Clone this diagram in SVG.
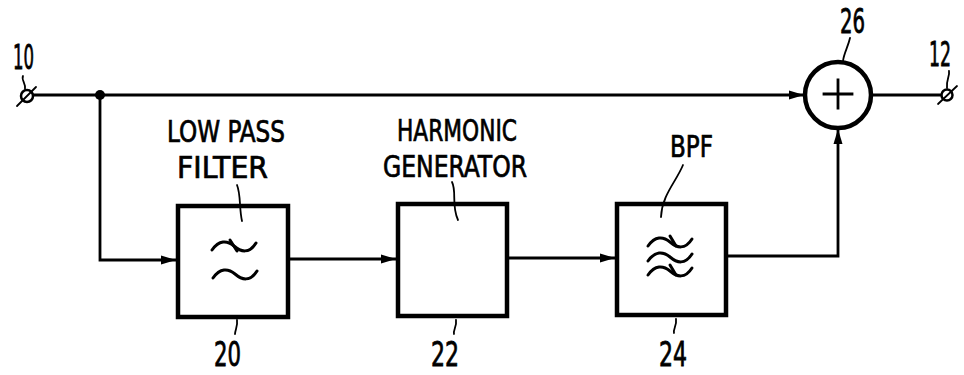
<svg xmlns="http://www.w3.org/2000/svg" width="964" height="375" viewBox="0 0 964 375">
<defs>
<style>
.ln{fill:none;stroke:#000;stroke-width:2.8;stroke-linecap:square}
.box{fill:#fff;stroke:#000;stroke-width:4.5}
.ld{fill:none;stroke:#000;stroke-width:1.8;stroke-linecap:round}
.tl{fill:none;stroke:#000;stroke-width:3;stroke-linecap:round}
.t{font-family:"Liberation Sans Narrow","DejaVu Sans Condensed","Liberation Sans",sans-serif;font-size:30px;fill:#000;stroke:#000;stroke-width:0.7}
.n{font-family:"Liberation Sans Narrow","DejaVu Sans Condensed","Liberation Sans",sans-serif;font-size:34px;fill:#000;stroke:#000;stroke-width:0.8}
</style>
<marker id="ah" markerWidth="15" markerHeight="10" refX="14" refY="5" orient="auto" markerUnits="userSpaceOnUse">
<path d="M0,0.5 L15,5 L0,9.5 Z" fill="#000"/>
</marker>
<path id="tilde" d="M0 5 C 7 -5, 15 -5, 22 1 S 37 9, 44 -2"/>
</defs>

<g id="connectors">
<path class="ln" d="M33 95 H803" marker-end="url(#ah)"/>
<path class="ln" d="M100 95 V260 H175" marker-end="url(#ah)"/>
<path class="ln" d="M290 259 H395" marker-end="url(#ah)"/>
<path class="ln" d="M509 258 H614" marker-end="url(#ah)"/>
<path class="ln" d="M729 256 H838 V130" marker-end="url(#ah)"/>
<path class="ln" d="M873 95 H942"/>
<circle cx="100" cy="95" r="5" fill="#000"/>
</g>

<g id="terminal10">
<circle cx="27" cy="96" r="6" fill="#fff" stroke="#000" stroke-width="2.5"/>
<path class="ld" d="M17 106 L36 87" stroke-width="2.5"/>
<path class="ld" d="M23 76 C 21 80, 26 83, 25 89"/>
<text class="n" x="13" y="69" textLength="21" lengthAdjust="spacingAndGlyphs">10</text>
</g>

<g id="terminal12">
<circle cx="947" cy="95" r="5.5" fill="#fff" stroke="#000" stroke-width="2.5"/>
<path class="ld" d="M938 104 L957 86" stroke-width="2.5"/>
<path class="ld" d="M949 71 C 950 76, 946 80, 947 88"/>
<text class="n" x="929" y="66" textLength="22" lengthAdjust="spacingAndGlyphs">12</text>
</g>

<g id="lpf">
<rect class="box" x="178" y="206" width="110" height="111"/>
<text class="t" x="167" y="142" textLength="118" lengthAdjust="spacingAndGlyphs">LOW PASS</text>
<text class="t" x="177" y="178" textLength="91" lengthAdjust="spacingAndGlyphs">FILTER</text>
<path class="ld" d="M237 185 C 241 195, 239 208, 242 221"/>
<use href="#tilde" class="tl" x="212" y="245"/>
<path class="tl" d="M230 240 L237 251" stroke-width="2.5"/>
<use href="#tilde" class="tl" x="213" y="273"/>
<path class="ld" d="M237 320 C 238 326, 235 330, 235 334"/>
<text class="n" x="214" y="366" textLength="27" lengthAdjust="spacingAndGlyphs">20</text>
</g>

<g id="harmonic">
<rect class="box" x="398" y="204" width="109" height="112"/>
<text class="t" x="397" y="141" textLength="120" lengthAdjust="spacingAndGlyphs">HARMONIC</text>
<text class="t" x="383" y="177" textLength="144" lengthAdjust="spacingAndGlyphs">GENERATOR</text>
<path class="ld" d="M452 182 C 457 192, 451 205, 458 220"/>
<path class="ld" d="M456 320 C 457 326, 453 330, 454 334"/>
<text class="n" x="431" y="366" textLength="28" lengthAdjust="spacingAndGlyphs">22</text>
</g>

<g id="bpf">
<rect class="box" x="617" y="204" width="109" height="111"/>
<text class="t" x="670" y="157" textLength="43" lengthAdjust="spacingAndGlyphs">BPF</text>
<path class="ld" d="M683 165 C 676 182, 662 195, 661 217"/>
<use href="#tilde" class="tl" x="648" y="241"/>
<use href="#tilde" class="tl" x="648" y="256"/>
<use href="#tilde" class="tl" x="648" y="270"/>
<path class="tl" d="M670 236 L676 246" stroke-width="2.5"/>
<path class="tl" d="M670 265 L676 275" stroke-width="2.5"/>
<path class="ld" d="M676 319 C 677 325, 673 329, 674 333"/>
<text class="n" x="659" y="366" textLength="28" lengthAdjust="spacingAndGlyphs">24</text>
</g>

<g id="summer">
<circle cx="838" cy="95" r="33" fill="#fff" stroke="#000" stroke-width="4.5"/>
<path class="ln" d="M824 94 H852 M838 80 V108" stroke-width="3"/>
<path class="ld" d="M850 38 C 848 47, 844 53, 843 61"/>
<text class="n" x="840" y="33" textLength="25" lengthAdjust="spacingAndGlyphs">26</text>
</g>
</svg>
